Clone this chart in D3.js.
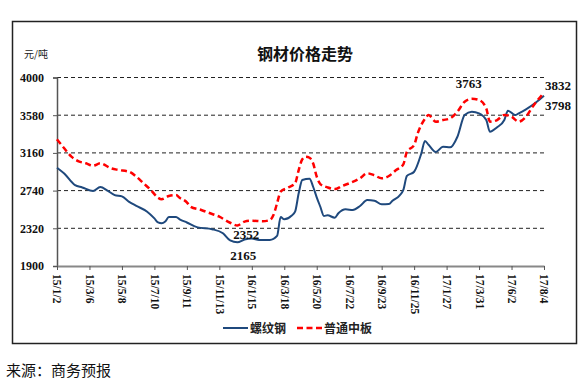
<!DOCTYPE html>
<html>
<head>
<meta charset="utf-8">
<script src="https://cdn.jsdelivr.net/npm/d3@7"></script>
<style>
  body { margin: 0; background: #fff; }
  svg { display: block; }
</style>
</head>
<body>
<svg id="chart" width="587" height="385"></svg>
<script>
/* DATA */
// x = week number counted from 15/1/2 (tick every 9 weeks)
const tickLabels = ["15/1/2", "15/3/6", "15/5/8", "15/7/10", "15/9/11", "15/11/13", "16/1/15", "16/3/18",
  "16/5/20", "16/7/22", "16/9/23", "16/11/25", "17/1/27", "17/3/31", "17/6/2", "17/8/4"];
const yTicks = [1900, 2320, 2740, 3160, 3580, 4000];

// 螺纹钢
const rebar = [
  [0, 2995], [2, 2930], [5, 2800], [7, 2775], [10, 2735], [12, 2780], [14, 2740], [16, 2690],
  [18, 2675], [20, 2615], [22, 2570], [25, 2505], [27, 2430], [28, 2385], [29, 2375], [30, 2395],
  [31, 2445], [33, 2445], [34, 2420], [36, 2385], [39, 2330], [43, 2310], [46, 2265], [48, 2185],
  [50, 2165], [52, 2195], [54, 2205], [56, 2190], [59, 2190], [61, 2235], [62, 2445], [63, 2420],
  [65, 2460], [66, 2505], [67, 2710], [68, 2858], [70, 2873], [71, 2783], [72, 2665], [73, 2560],
  [74, 2457], [75, 2465], [77, 2438], [78, 2487], [80, 2531], [82, 2524], [84, 2568], [86, 2635],
  [88, 2627], [90, 2587], [92, 2590], [93, 2627], [95, 2687], [96, 2747], [97, 2903], [99, 2950],
  [101, 3155], [102, 3292], [103, 3250], [105, 3170], [107, 3229], [109, 3222], [111, 3340],
  [113, 3582], [115, 3619], [117, 3601], [119, 3526], [120, 3396], [122, 3445], [124, 3526],
  [125, 3630], [127, 3582], [128, 3601], [130, 3645], [133, 3730], [135, 3798]
];

// 普通中板
const plate = [
  [0, 3311], [2, 3211], [4, 3118], [6, 3066], [8, 3044], [10, 3017], [12, 3044], [15, 2988],
  [17, 2970], [20, 2950], [22, 2895], [24, 2821], [26, 2747], [28, 2661], [29, 2643], [31, 2680],
  [33, 2690], [34, 2660], [36, 2610], [37, 2561], [40, 2524], [42, 2494], [45, 2449], [48, 2382],
  [50, 2352], [52, 2394], [54, 2405], [57, 2398], [59, 2412], [60, 2468], [61, 2598], [62, 2728],
  [64, 2772], [66, 2821], [67, 2969], [68, 3089], [69, 3118], [70, 3106], [71, 3044], [72, 2895],
  [73, 2813], [75, 2776], [77, 2757], [79, 2791], [81, 2821], [84, 2877], [86, 2933], [88, 2910],
  [90, 2877], [92, 2903], [94, 2969], [96, 3033], [97, 3174], [99, 3248], [100, 3378], [102, 3540],
  [103, 3582], [105, 3508], [107, 3526], [109, 3545], [111, 3619], [113, 3730], [115, 3763],
  [117, 3749], [119, 3656], [120, 3508], [122, 3526], [124, 3582], [126, 3563], [128, 3508],
  [130, 3563], [132, 3682], [135, 3832]
];

const seriesNames = ["螺纹钢", "普通中板"];
const colors = ["#1f497d", "#ff0000"];

/* LAYOUT */
const margin = { left: 57, right: 43, top: 77.5, bottom: 119 };
const W = 587, H = 385;

const svg = d3.select("#chart");

// outer frame
svg.append("rect")
  .attr("x", 12.5).attr("y", 21.5)
  .attr("width", 564).attr("height", 322)
  .attr("fill", "none")
  .attr("stroke", "#222")
  .attr("stroke-width", 1.5);

const xScale = d3.scaleLinear()
  .domain([0, 135])
  .range([margin.left, W - margin.right]);

const yScale = d3.scaleLinear()
  .domain([1900, 4000])
  .range([H - margin.bottom, margin.top]);

// gridlines
svg.append("g")
  .selectAll("line")
  .data(yTicks.slice(1))
  .join("line")
  .attr("x1", xScale(0))
  .attr("x2", xScale(135))
  .attr("y1", d => yScale(d))
  .attr("y2", d => yScale(d))
  .attr("stroke", "#222")
  .attr("stroke-width", 1)
  .attr("stroke-dasharray", "4,3");

// y axis
const yAxis = d3.axisLeft(yScale)
  .tickValues(yTicks)
  .tickFormat(d3.format("d"))
  .tickSize(4)
  .tickPadding(9);
const yAxisGroup = svg.append("g")
  .attr("transform", `translate(${margin.left},0)`)
  .call(yAxis);
yAxisGroup.select(".domain").attr("stroke", "#555").attr("stroke-width", 1.5);
yAxisGroup.selectAll(".tick line").attr("stroke", "#555");
yAxisGroup.selectAll("text")
  .attr("font-family", "'Liberation Serif', serif")
  .attr("font-weight", "bold")
  .attr("font-size", 12)
  .attr("fill", "#111");

// x axis
const xAxis = d3.axisBottom(xScale)
  .tickValues(d3.range(0, 136, 9))
  .tickFormat((d, i) => tickLabels[i])
  .tickSize(4)
  .tickSizeOuter(0);
const xAxisGroup = svg.append("g")
  .attr("transform", `translate(0,${H - margin.bottom})`)
  .call(xAxis);
xAxisGroup.select(".domain").attr("stroke", "#888").attr("stroke-width", 2);
xAxisGroup.selectAll(".tick line").attr("stroke", "#555");
xAxisGroup.selectAll("text")
  .attr("font-family", "'Liberation Serif', serif")
  .attr("font-weight", "bold")
  .attr("font-size", 11.5)
  .attr("fill", "#111")
  .attr("text-anchor", "start")
  .attr("dy", "0.35em")
  .attr("y", 0)
  .attr("transform", "translate(0,8) rotate(90)");

// lines
const line = d3.line()
  .x(d => xScale(d[0]))
  .y(d => yScale(d[1]))
  .curve(d3.curveMonotoneX);

svg.append("path")
  .datum(rebar)
  .attr("d", line)
  .attr("fill", "none")
  .attr("stroke", colors[0])
  .attr("stroke-width", 2);

svg.append("path")
  .datum(plate)
  .attr("d", line)
  .attr("fill", "none")
  .attr("stroke", colors[1])
  .attr("stroke-width", 2.5)
  .attr("stroke-dasharray", "6,3.5");

// value labels
const valueLabels = [
  { x: 115, y: 3763, text: "3763", dx: -3, dy: -11, anchor: "middle" },
  { x: 135, y: 3832, text: "3832", dx: 1, dy: -3, anchor: "start" },
  { x: 135, y: 3798, text: "3798", dx: 1, dy: 14, anchor: "start" },
  { x: 50, y: 2352, text: "2352", dx: 9, dy: 14, anchor: "middle" },
  { x: 50, y: 2165, text: "2165", dx: 6, dy: 18, anchor: "middle" }
];
svg.append("g")
  .selectAll("text")
  .data(valueLabels)
  .join("text")
  .attr("x", d => xScale(d.x) + d.dx)
  .attr("y", d => yScale(d.y) + d.dy)
  .attr("text-anchor", d => d.anchor)
  .attr("font-family", "'Liberation Serif', serif")
  .attr("font-weight", "bold")
  .attr("font-size", 13)
  .attr("fill", "#111")
  .text(d => d.text);

// title and unit
svg.append("text")
  .attr("x", 305).attr("y", 60)
  .attr("text-anchor", "middle")
  .attr("font-family", "'Noto Sans CJK SC', sans-serif")
  .attr("font-weight", "bold")
  .attr("font-size", 16)
  .attr("fill", "#111")
  .text("钢材价格走势");

svg.append("text")
  .attr("x", 24).attr("y", 58)
  .attr("font-family", "'Noto Sans CJK SC', serif")
  .attr("font-size", 10)
  .attr("fill", "#222")
  .text("元/吨");

// legend
const legend = svg.append("g").attr("transform", "translate(223,328)");
const legendItems = legend.selectAll("g")
  .data(seriesNames)
  .join("g")
  .attr("transform", (d, i) => `translate(${i * 74},0)`);
legendItems.append("line")
  .attr("x1", 0).attr("x2", 25)
  .attr("y1", 0).attr("y2", 0)
  .attr("stroke", (d, i) => colors[i])
  .attr("stroke-width", (d, i) => i ? 2.5 : 2)
  .attr("stroke-dasharray", (d, i) => i ? "6,3.5" : null);
legendItems.append("text")
  .attr("x", 27).attr("y", 4.5)
  .attr("font-family", "'Noto Sans CJK SC', sans-serif")
  .attr("font-weight", "bold")
  .attr("font-size", 12)
  .attr("fill", "#222")
  .text(d => d);

// source
svg.append("text")
  .attr("x", 6).attr("y", 376)
  .attr("font-family", "'Noto Sans CJK SC', sans-serif")
  .attr("font-size", 15)
  .attr("fill", "#111")
  .text("来源：商务预报");
</script>
</body>
</html>
